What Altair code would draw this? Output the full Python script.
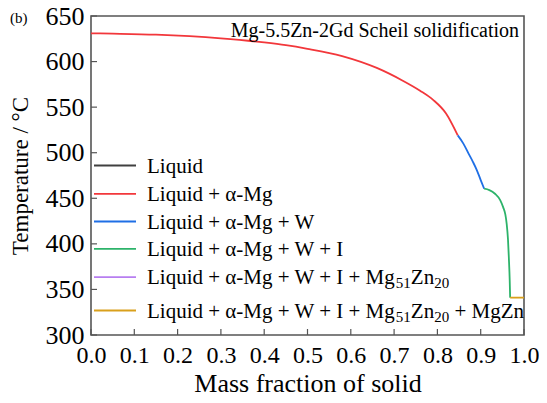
import altair as alt
import pandas as pd

phases = [
    "Liquid",
    "Liquid + α-Mg",
    "Liquid + α-Mg + W",
    "Liquid + α-Mg + W + I",
    "Liquid + α-Mg + W + I + Mg51Zn20",
    "Liquid + α-Mg + W + I + Mg51Zn20 + MgZn",
]
colors = ["#404040", "#f2373b", "#1f6fe5", "#2db36a", "#b77ef0", "#d9a01c"]

liquid_frac = []
liquid_T = []
red_frac = [0.0, 0.05, 0.15, 0.30, 0.40, 0.45, 0.50, 0.58, 0.66, 0.72, 0.76, 0.79, 0.82, 0.847]
red_T = [631, 630.6, 629.5, 625.5, 621, 618, 614, 606, 593, 579, 568, 558, 543, 519]
blue_frac = [0.847, 0.860, 0.872, 0.882, 0.891, 0.900, 0.908]
blue_T = [519, 510, 499, 490, 481, 470, 460.5]
green_frac = [0.908, 0.920, 0.933, 0.945, 0.952, 0.957, 0.960, 0.963, 0.965, 0.967, 0.968]
green_T = [460.5, 459, 455, 448, 440, 432, 422, 405, 385, 360, 341]
purple_frac = []
purple_T = []
orange_frac = [0.968, 1.0]
orange_T = [341, 341]

x_ticks = [0.0, 0.1, 0.2, 0.3, 0.4, 0.5, 0.6, 0.7, 0.8, 0.9, 1.0]
y_ticks = [300, 350, 400, 450, 500, 550, 600, 650]

# legend label pieces: (text, is_subscript)
legend_parts = [
    [("Liquid", False)],
    [("Liquid + α-Mg", False)],
    [("Liquid + α-Mg + W", False)],
    [("Liquid + α-Mg + W + I", False)],
    [("Liquid + α-Mg + W + I + Mg", False), ("51", True), ("Zn", False), ("20", True)],
    [("Liquid + α-Mg + W + I + Mg", False), ("51", True), ("Zn", False), ("20", True),
     ("+ MgZn", False)],
]

series = [
    (phases[0], liquid_frac, liquid_T),
    (phases[1], red_frac, red_T),
    (phases[2], blue_frac, blue_T),
    (phases[3], green_frac, green_T),
    (phases[4], purple_frac, purple_T),
    (phases[5], orange_frac, orange_T),
]
rows = []
for ph, fs, ts in series:
    for i, (f, t) in enumerate(zip(fs, ts)):
        rows.append({"phase": ph, "frac": f, "T": t, "i": i})
df = pd.DataFrame(rows)

W, H = 433, 319
FONT = "Liberation Serif"

# Times / Liberation Serif advance widths (per em) for legend layout
TW = {" ": .25, "+": .564, "-": .333, "L": .611, "i": .278, "q": .5, "u": .5, "d": .5,
      "M": .889, "g": .5, "W": .944, "I": .333, "Z": .611, "n": .5, "α": .54}


def text_width(s, size):
    return sum(TW.get(c, .5) for c in s) * size


xscale = alt.Scale(domain=[0, 1], nice=False, zero=False)
yscale = alt.Scale(domain=[300, 650], nice=False, zero=False)
xaxis = alt.Axis(values=x_ticks, format=".1f", title="Mass fraction of solid",
                 labelPadding=8, titlePadding=3, labelFontSize=24, titleFontSize=26)
yaxis = alt.Axis(values=y_ticks, title="Temperature / °C", labelPadding=7,
                 titlePadding=13, labelFontSize=26, titleFontSize=23)

lines = alt.Chart(df).mark_line(strokeWidth=1.8, clip=True, interpolate="monotone").encode(
    x=alt.X("frac:Q", scale=xscale, axis=xaxis),
    y=alt.Y("T:Q", scale=yscale, axis=yaxis),
    color=alt.Color("phase:N", scale=alt.Scale(domain=phases, range=colors), legend=None),
    order="i:Q",
)

xt = pd.DataFrame({"frac": x_ticks})
yt = pd.DataFrame({"T": y_ticks})
xtick = alt.Chart(xt).mark_rule(color="#555", strokeWidth=1.2).encode(
    x=alt.X("frac:Q", scale=xscale, axis=xaxis), y=alt.value(H), y2=alt.value(H - 6))
ytick = alt.Chart(yt).mark_rule(color="#555", strokeWidth=1.2).encode(
    y=alt.Y("T:Q", scale=yscale, axis=yaxis), x=alt.value(0), x2=alt.value(6))

one = pd.DataFrame({"a": [0]})
layers = [lines, xtick, ytick]

title_txt = alt.Chart(one).mark_text(
    align="right", baseline="middle", fontSize=20, font=FONT, color="#000",
    text="Mg-5.5Zn-2Gd Scheil solidification"
).encode(x=alt.value(428), y=alt.value(15))
panel = alt.Chart(one).mark_text(
    align="left", baseline="middle", fontSize=15, font=FONT, color="#000", text="(b)"
).encode(x=alt.value(-81), y=alt.value(2))
layers += [title_txt, panel]

# manual legend
row_y = [149.5, 177.8, 205.5, 232.8, 261.2, 294.5]
LFS, SFS = 21, 15
for r, (parts, col) in enumerate(zip(legend_parts, colors)):
    cy = row_y[r]
    layers.append(alt.Chart(one).mark_rule(color=col, strokeWidth=1.8).encode(
        x=alt.value(3), x2=alt.value(45), y=alt.value(cy)))
    xpos = 56.0
    for j, (txt, sub) in enumerate(parts):
        fs = SFS if sub else LFS
        if txt.startswith("+") and j > 0:
            xpos += text_width(" ", LFS)
        base = cy + 7 + (4 if sub else 0)
        layers.append(alt.Chart(one).mark_text(
            align="left", baseline="alphabetic", fontSize=fs, font=FONT, color="#000",
            text=txt).encode(x=alt.value(xpos), y=alt.value(base)))
        xpos += text_width(txt, fs)

chart = alt.layer(*layers).properties(
    width=W, height=H,
    autosize=alt.AutoSizeParams(type="none"),
    padding={"left": 83, "top": 8, "right": 15, "bottom": 60},
).configure(background="white", font=FONT).configure_view(
    stroke="#555", strokeWidth=1.6
).configure_axis(
    labelFont=FONT, titleFont=FONT, labelColor="#000", titleColor="#000",
    titleFontWeight="normal", ticks=False, grid=False, domain=False, labelFlush=False
)

chart.save("out.html", embed_options={"renderer": "svg", "actions": False})
